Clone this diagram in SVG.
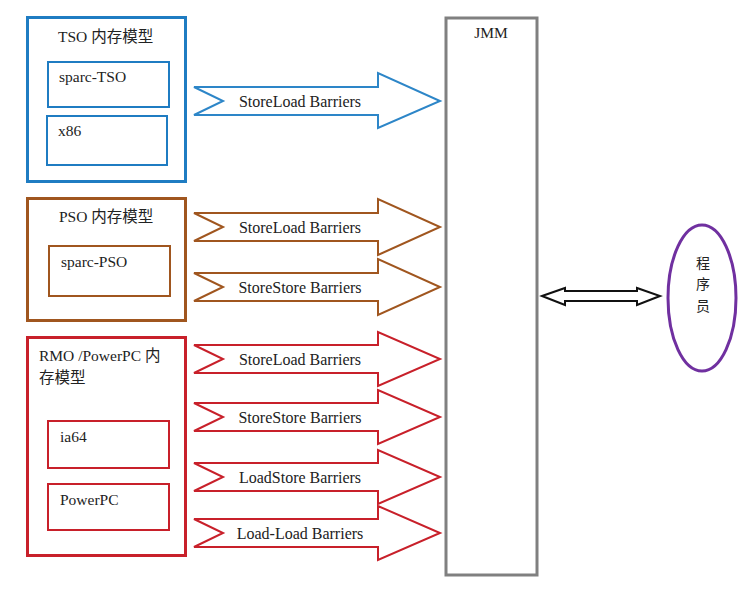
<svg xmlns="http://www.w3.org/2000/svg" width="744" height="592" viewBox="0 0 744 592">
<style>
text{font-family:"Liberation Serif","Noto Sans CJK SC",serif;font-size:15.5px;fill:#222}
.lbl{text-anchor:middle}
.al{font-size:16px}
.cjk{font-family:"Noto Sans CJK SC",sans-serif;font-size:14px;text-anchor:middle}
.blue{fill:#fff;stroke:#1f7cc2;stroke-width:3}
.blue2{fill:#fff;stroke:#1f7cc2;stroke-width:2}
.brown{fill:#fff;stroke:#a0561f;stroke-width:3}
.brown2{fill:#fff;stroke:#a0561f;stroke-width:2}
.red{fill:#fff;stroke:#c8202a;stroke-width:3}
.red2{fill:#fff;stroke:#c8202a;stroke-width:2}
.bA{fill:#fff;stroke:#2d86c8;stroke-width:2}
.brA{fill:#fff;stroke:#a0561f;stroke-width:2}
.rA{fill:#fff;stroke:#c8202a;stroke-width:2}
</style>
<rect width="744" height="592" fill="#fff"/>
<g id="jmm">
<rect x="446" y="18" width="91" height="557" fill="#fff" stroke="#808080" stroke-width="3"/>
<text x="491" y="38" class="lbl">JMM</text>
</g>
<g id="tso">
<rect x="27.5" y="17.5" width="158" height="164" class="blue"/>
<text x="58" y="42">TSO 内存模型</text>
<rect x="48" y="62" width="121" height="45" class="blue2"/>
<text x="59" y="82">sparc-TSO</text>
<rect x="47" y="116" width="120" height="49" class="blue2"/>
<text x="58" y="136">x86</text>
</g>
<g id="pso">
<rect x="27.5" y="198.5" width="158" height="122" class="brown"/>
<text x="59" y="222">PSO 内存模型</text>
<rect x="49" y="246" width="121" height="50" class="brown2"/>
<text x="61" y="267">sparc-PSO</text>
</g>
<g id="rmo">
<rect x="27.5" y="337.5" width="158" height="218" class="red"/>
<text x="39" y="361">RMO /PowerPC 内</text>
<text x="39" y="383">存模型</text>
<rect x="48" y="421" width="121" height="47" class="red2"/>
<text x="60" y="442">ia64</text>
<rect x="48" y="484" width="121" height="46" class="red2"/>
<text x="60" y="505">PowerPC</text>
</g>
<g id="programmer">
<ellipse cx="702" cy="298" rx="34" ry="73" fill="#fff" stroke="#7030a0" stroke-width="3"/>
<text x="703" y="268" class="cjk">程</text>
<text x="703" y="289" class="cjk">序</text>
<text x="703" y="311" class="cjk">员</text>
</g>
<g id="connectors">
<polygon class="bA" points="194,87 378,87 378,73 440,101 378,128 378,115 194,115 223,101"/>
<text x="300" y="107" class="lbl al">StoreLoad Barriers</text>
<polygon class="brA" points="194,213 378,213 378,199 440,227 378,255 378,241 194,241 223,227"/>
<text x="300" y="233" class="lbl al">StoreLoad Barriers</text>
<polygon class="brA" points="194,273 378,273 378,259 440,287 378,315 378,301 194,301 223,287"/>
<text x="300" y="293" class="lbl al">StoreStore Barriers</text>
<polygon class="rA" points="194,345 378,345 378,332 440,359 378,386 378,373 194,373 223,359"/>
<text x="300" y="365" class="lbl al">StoreLoad Barriers</text>
<polygon class="rA" points="194,403 378,403 378,390 440,417 378,444 378,431 194,431 223,417"/>
<text x="300" y="423" class="lbl al">StoreStore Barriers</text>
<polygon class="rA" points="194,463 378,463 378,450 440,477 378,504 378,491 194,491 223,477"/>
<text x="300" y="483" class="lbl al">LoadStore Barriers</text>
<polygon class="rA" points="194,519 378,519 378,506 440,533 378,560 378,547 194,547 223,533"/>
<text x="300" y="539" class="lbl al">Load-Load Barriers</text>
<polygon points="542,296 565,288 565,291 637,291 637,288 660,296 637,305 637,301 565,301 565,305" fill="#fff" stroke="#111" stroke-width="2"/>
</g>
</svg>
